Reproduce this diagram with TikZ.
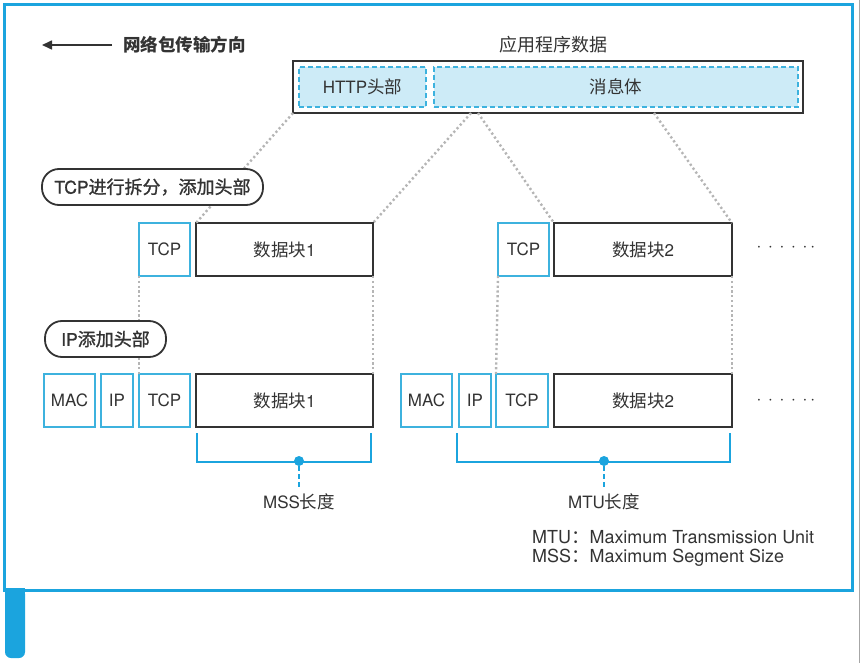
\documentclass[tikz,border=0pt]{standalone}
\usepackage{fontspec}
\setmainfont{Noto Sans CJK SC}
\newfontfamily\lat{TeX Gyre Heros}[Scale=0.97]
\newfontfamily\semib{Noto Sans CJK SC}[FakeBold=1.2]
\newfontfamily\latsb{TeX Gyre Heros}[Scale=0.97,FakeBold=1.2]
\usetikzlibrary{arrows.meta,calc}
\definecolor{fblue}{HTML}{1BA4DE}
\definecolor{bblue}{HTML}{3DB2DE}
\definecolor{lblue}{HTML}{CDEBF7}
\definecolor{dgray}{HTML}{333333}
\definecolor{lgray}{HTML}{B5B5B5}
\tikzset{
  base/.style={inner sep=0pt, outer sep=0pt, text=dgray, font=\fontsize{17.5}{19}\selectfont},
  bluebox/.style={base, draw=bblue, line width=1.8pt, fill=white},
  blackbox/.style={base, draw=dgray, line width=1.6pt, fill=white},
  dashbox/.style={base, draw=bblue, line width=1.6pt, fill=lblue, dash pattern=on 5pt off 3pt},
  pill/.style={base, draw=dgray, line width=1.8pt, fill=white, rounded corners=17pt, font=\fontsize{18}{19}\selectfont\semib},
  dotline/.style={draw=lgray, line width=2.4pt, dash pattern=on 2.2pt off 2.6pt},
  bracket/.style={draw=fblue, line width=2.6pt},
  txt/.style={inner sep=0pt, text=dgray, font=\fontsize{17.5}{19}\selectfont},
}
\newcommand{\bx}[7]{\node[#6, minimum width={(#4-#2)*1pt}, minimum height={(#5-#3)*1pt}] (#1) at ({(#2+#4)/2},{(#3+#5)/2}) {#7};}
\begin{document}
\begin{tikzpicture}[x=1pt,y=-1pt]
\useasboundingbox (0,0) rectangle (862,663);
% frame
\draw[draw=fblue, line width=3pt] (4.5,4.5) rectangle (852,590);
\draw[draw=gray!70, line width=1pt] (859,0) -- (859,663);
\fill[fblue, rounded corners=6pt] (5,588) -- (5,658) -- (25,658) -- (25,588) -- cycle;
\fill[fblue] (5,588) rectangle (25,600);
% direction arrow
\coordinate (arrS) at (112,45);
\coordinate (arrE) at (42,45);
\draw[dgray, line width=1.6pt, -{Triangle[length=10pt,width=9pt]}] (arrS) -- (arrE);
\node[txt, anchor=west, font=\fontsize{17.5}{19}\selectfont\bfseries] (dir) at (123,45) {网络包传输方向};
% application data
\node[txt, font=\fontsize{18}{19}\selectfont] (appl) at (553,45) {应用程序数据};
\bx{top}{293}{61}{803}{113}{blackbox}{}
\bx{http}{299}{67}{426}{107}{dashbox}{{\lat HTTP}头部}
\bx{body}{434}{67}{798}{107}{dashbox}{消息体}
% row 1
\bx{tcpA}{139}{223}{190}{276}{bluebox}{\lat TCP}
\bx{dA}{196}{223}{373}{276}{blackbox}{数据块{\lat 1}}
\bx{tcpB}{498}{223}{549}{276}{bluebox}{\lat TCP}
\bx{dB}{554}{223}{732}{276}{blackbox}{数据块{\lat 2}}
\node[txt] (dots1) at (786,248) {$\cdot\,\cdot\,\cdot\,\cdot\,\cdot\,\cdot$};
% row 2
\bx{macA}{44}{374}{95}{427}{bluebox}{\lat MAC}
\bx{ipA}{101}{374}{133}{427}{bluebox}{\lat IP}
\bx{tcpC}{139}{374}{190}{427}{bluebox}{\lat TCP}
\bx{dC}{196}{374}{373}{427}{blackbox}{数据块{\lat 1}}
\bx{macB}{401}{374}{452}{427}{bluebox}{\lat MAC}
\bx{ipB}{459}{374}{491}{427}{bluebox}{\lat IP}
\bx{tcpD}{496}{374}{548}{427}{bluebox}{\lat TCP}
\bx{dD}{554}{374}{732}{427}{blackbox}{数据块{\lat 2}}
\node[txt] (dots2) at (786,401) {$\cdot\,\cdot\,\cdot\,\cdot\,\cdot\,\cdot$};
% dotted connectors
\coordinate (b1) at (471,113);
\coordinate (b2) at (478,113);
\coordinate (b3) at (654,113);
\draw[dotline] (top.south west) -- (dA.north west);
\draw[dotline] (b1) -- (dA.north east);
\draw[dotline] (b2) -- (dB.north west);
\draw[dotline] (b3) -- (dB.north east);
\draw[dotline] (tcpA.south west) -- (tcpC.north west);
\draw[dotline] (dA.south east) -- (dC.north east);
\draw[dotline] (tcpB.south west) -- (tcpD.north west);
\draw[dotline] (dB.south east) -- (dD.north east);
% labels (cover lines)
\bx{lblTCP}{42}{169}{263}{205}{pill}{{\latsb TCP}进行拆分，添加头部}
\bx{lblIP}{45}{321}{166}{357}{pill}{{\latsb IP}添加头部}
% brackets
\coordinate (mssL) at (197,433);
\coordinate (mssR) at (371,433);
\draw[bracket] (mssL) |- (299,462) -| (mssR);
\node[circle, fill=fblue, minimum size=10pt, inner sep=0pt] (mssDot) at (299,461) {};
\node[txt] (mss) at (299,502) {{\lat MSS}长度};
\draw[fblue, line width=2.4pt, dash pattern=on 5pt off 3pt, shorten >=4pt] (mssDot) -- (mss.north);
\coordinate (mtuL) at (457,433);
\coordinate (mtuR) at (730,433);
\draw[bracket] (mtuL) |- (604,462) -| (mtuR);
\node[circle, fill=fblue, minimum size=10pt, inner sep=0pt] (mtuDot) at (604,461) {};
\node[txt] (mtu) at (604,502) {{\lat MTU}长度};
\draw[fblue, line width=2.4pt, dash pattern=on 5pt off 3pt, shorten >=4pt] (mtuDot) -- (mtu.north);
% legend
\node[txt, anchor=west, font=\fontsize{18.5}{20}\selectfont] (leg1) at (532,537) {{\lat MTU}：{\lat Maximum Transmission Unit}};
\node[txt, anchor=west, font=\fontsize{18.5}{20}\selectfont] (leg2) at (532,558) {{\lat MSS}：{\lat Maximum Segment Size}};
\end{tikzpicture}
\end{document}
